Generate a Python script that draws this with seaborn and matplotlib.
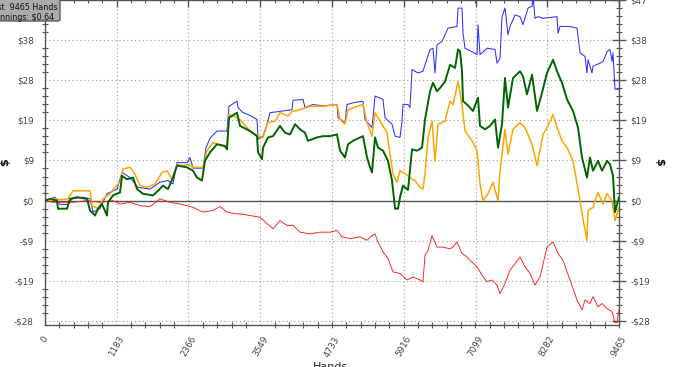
import matplotlib
matplotlib.use("Agg")
import matplotlib.pyplot as plt
import seaborn as sns
import pandas as pd
from matplotlib.patches import FancyBboxPatch
from matplotlib.ticker import AutoMinorLocator

# ---------------- data (hand number, winnings in $) ----------------
x_ticks = [0, 1183, 2366, 3549, 4733, 5916, 7099, 8282, 9465]
x_tick_labels = ["0", "1183", "2366", "3549", "4733", "5916", "7099", "8282", "9465"]
y_ticks = [-28.2, -18.8, -9.4, 0.0, 9.4, 18.8, 28.2, 37.6, 47.0]
y_tick_labels = ["-$28", "-$19", "-$9", "$0", "$9", "$19", "$28", "$38", "$47"]

blue_pts = [(0, 0.0), (82, 0.4), (165, 0.8), (247, -0.9), (379, -0.9), (445, 0.4), (627, 0.8),
            (742, 0.4), (792, -2.7), (907, -1.9), (1022, 1.6), (1187, 2.7), (1270, 6.6), (1402, 5.4),
            (1534, 3.1), (1731, 2.7), (1896, 4.3), (2028, 4.7), (2111, 3.9), (2177, 8.9), (2342, 8.9),
            (2391, 10.1), (2441, 7.6), (2605, 7.6), (2655, 12.4), (2721, 14.6), (2836, 16.3),
            (3001, 16.3), (3034, 22.1), (3166, 23.3), (3183, 21.8), (3265, 20.6), (3347, 20.2),
            (3496, 19.0), (3513, 14.4), (3595, 15.1), (3661, 17.9), (3710, 20.6), (3875, 20.9),
            (4073, 21.3), (4090, 23.5), (4254, 23.7), (4287, 21.8), (4419, 22.5), (4584, 22.2),
            (4815, 22.5), (4832, 19.4), (4947, 18.3), (4980, 22.5), (5079, 22.9), (5244, 23.3),
            (5277, 19.0), (5392, 17.1), (5442, 24.5), (5574, 23.7), (5607, 19.4), (5722, 17.9),
            (5772, 15.1), (5854, 14.8), (5887, 18.6), (5903, 22.5), (5986, 22.5), (6019, 21.8),
            (6052, 30.7), (6151, 29.9), (6233, 30.3), (6266, 31.8), (6349, 35.4), (6398, 35.7),
            (6431, 29.9), (6464, 36.5), (6547, 37.3), (6646, 40.4), (6794, 40.8), (6811, 45.1),
            (6876, 45.1), (6893, 39.2), (6926, 35.7), (7041, 34.9), (7124, 34.2), (7140, 41.2),
            (7173, 34.2), (7289, 35.7), (7421, 35.4), (7454, 32.2), (7503, 33.4), (7536, 43.1),
            (7585, 45.1), (7635, 38.9), (7668, 40.8), (7750, 43.5), (7833, 43.1), (7882, 41.2),
            (7965, 45.1), (8031, 45.5), (8047, 48.0), (8080, 42.7), (8130, 43.1), (8212, 42.7),
            (8443, 43.1), (8460, 39.2), (8492, 40.8), (8657, 40.8), (8773, 40.4), (8822, 34.6),
            (8904, 33.8), (8937, 29.9), (8954, 33.0), (9020, 29.9), (9036, 31.5), (9152, 32.2),
            (9202, 32.6), (9268, 34.9), (9317, 35.4), (9350, 32.6), (9366, 34.6), (9399, 26.1),
            (9465, 26.1)]

green_pts = [(0, 0.0), (82, 0.4), (198, 0.0), (214, -1.9), (363, -1.9), (412, 0.4), (528, 0.8),
             (693, 0.4), (742, -2.3), (825, -3.5), (874, -1.9), (940, -0.8), (1022, -3.5),
             (1039, -0.4), (1121, 1.2), (1237, 1.9), (1270, 5.8), (1352, 5.0), (1451, 5.4),
             (1517, 2.7), (1616, 1.6), (1781, 1.2), (1863, 2.3), (1946, 3.5), (2028, 2.7),
             (2111, 5.4), (2177, 8.2), (2342, 7.8), (2441, 7.0), (2506, 5.4), (2589, 4.7),
             (2638, 9.3), (2721, 11.3), (2836, 13.2), (2968, 12.8), (3001, 12.0), (3034, 19.4),
             (3166, 20.6), (3216, 17.5), (3380, 16.3), (3496, 15.1), (3513, 11.3), (3578, 9.7),
             (3595, 12.4), (3677, 14.8), (3760, 15.1), (3875, 17.5), (3958, 15.9), (4040, 15.5),
             (4123, 17.9), (4205, 16.7), (4287, 15.9), (4337, 14.0), (4485, 14.8), (4584, 15.1),
             (4700, 15.1), (4815, 15.5), (4865, 11.7), (4947, 10.1), (4997, 13.2), (5079, 14.0),
             (5195, 14.8), (5244, 15.1), (5310, 10.1), (5359, 7.8), (5392, 6.6), (5442, 14.8),
             (5491, 12.4), (5574, 11.7), (5656, 9.3), (5722, 4.7), (5772, -1.9), (5821, -1.9),
             (5854, 0.8), (5903, 3.5), (5986, 2.5), (6052, 12.0), (6134, 11.7), (6217, 12.4),
             (6266, 19.0), (6349, 25.6), (6398, 27.6), (6464, 25.6), (6514, 26.4), (6596, 27.9),
             (6679, 31.8), (6761, 31.1), (6811, 35.4), (6844, 35.0), (6876, 30.3), (6893, 23.3),
             (6959, 22.5), (7058, 21.0), (7140, 24.1), (7173, 17.5), (7256, 16.7), (7338, 17.5),
             (7421, 19.0), (7470, 12.4), (7536, 17.9), (7585, 28.7), (7635, 21.8), (7717, 28.7),
             (7833, 30.3), (7882, 29.1), (7948, 24.9), (8031, 29.5), (8113, 21.0), (8196, 25.3),
             (8278, 29.9), (8377, 33.0), (8443, 30.3), (8525, 27.6), (8608, 23.7), (8707, 21.0),
             (8789, 17.1), (8855, 10.1), (8937, 5.4), (8987, 10.1), (9036, 7.0), (9119, 9.3),
             (9185, 7.0), (9268, 9.3), (9317, 8.5), (9366, 5.8), (9399, -2.7), (9465, 0.8)]

orange_pts = [(0, 0.0), (198, 0.4), (247, 0.2), (379, 0.4), (462, 2.3), (742, 2.3), (775, -1.2),
              (874, -1.9), (956, 0.4), (1072, 1.6), (1154, 3.1), (1237, 4.3), (1286, 7.4),
              (1402, 7.8), (1484, 6.2), (1567, 3.5), (1682, 3.1), (1814, 3.9), (1929, 6.6),
              (2012, 7.0), (2094, 5.0), (2177, 8.5), (2276, 8.2), (2358, 8.5), (2441, 7.8),
              (2605, 7.8), (2671, 11.7), (2770, 13.6), (3001, 12.4), (3034, 20.2), (3166, 19.5),
              (3216, 19.0), (3380, 16.3), (3513, 15.1), (3595, 14.8), (3677, 18.3), (3793, 18.6),
              (3875, 20.6), (4007, 19.8), (4073, 20.9), (4205, 21.3), (4370, 22.1), (4584, 22.1),
              (4815, 22.5), (4865, 19.0), (4947, 17.9), (4997, 21.3), (5145, 22.1), (5244, 22.5),
              (5310, 18.3), (5392, 15.1), (5442, 20.6), (5524, 18.6), (5640, 15.9), (5689, 10.9),
              (5739, 6.2), (5805, 4.3), (5854, 7.0), (5969, 6.0), (6052, 5.0), (6101, 4.7),
              (6184, 3.1), (6233, 2.7), (6266, 6.2), (6316, 14.8), (6382, 18.6), (6431, 9.3),
              (6481, 17.9), (6596, 18.6), (6679, 23.3), (6728, 22.5), (6811, 27.9), (6876, 22.5),
              (6926, 16.3), (7041, 14.0), (7124, 11.7), (7173, 3.9), (7223, 0.0), (7305, 1.6),
              (7388, 4.3), (7470, 0.0), (7503, 7.0), (7585, 16.7), (7635, 10.9), (7717, 16.7),
              (7833, 18.3), (7915, 17.1), (8031, 13.2), (8113, 8.2), (8212, 15.5), (8295, 17.5),
              (8377, 20.2), (8443, 17.1), (8525, 14.0), (8608, 12.4), (8707, 9.3), (8822, 0.0),
              (8871, -4.3), (8937, -9.3), (8954, -2.3), (9036, -1.6), (9119, 1.9), (9202, -0.8),
              (9268, 1.6), (9350, 0.0), (9399, -4.7), (9465, -1.6)]

red_pts = [(0, 0.0), (132, -0.4), (247, -0.4), (462, -0.4), (693, 0.0), (907, -0.4), (1121, 0.0),
           (1237, -0.8), (1402, -0.4), (1567, -1.2), (1731, -1.4), (1896, 0.4), (2061, -0.4),
           (2226, -0.8), (2342, -1.2), (2441, -1.6), (2605, -2.7), (2770, -2.3), (2886, -1.4),
           (3001, -2.7), (3133, -3.1), (3216, -3.1), (3380, -3.5), (3545, -3.9), (3661, -5.4),
           (3760, -6.6), (3875, -4.7), (3991, -5.8), (4090, -5.8), (4205, -7.4), (4370, -7.8),
           (4535, -7.4), (4700, -7.4), (4815, -7.0), (4898, -8.5), (5030, -8.9), (5195, -8.5),
           (5310, -9.3), (5392, -8.2), (5442, -7.8), (5491, -9.7), (5574, -12.0), (5656, -13.6),
           (5739, -16.7), (5854, -17.1), (5969, -18.6), (6068, -17.9), (6184, -18.6), (6233, -19.0),
           (6266, -12.8), (6316, -11.7), (6382, -8.2), (6464, -10.9), (6563, -10.9), (6679, -11.3),
           (6728, -10.9), (6794, -9.7), (6876, -12.4), (6959, -13.2), (7041, -14.4), (7124, -15.5),
           (7206, -17.5), (7289, -19.0), (7371, -18.6), (7454, -19.8), (7503, -21.8), (7585, -19.4),
           (7668, -16.3), (7750, -14.8), (7833, -13.2), (7915, -15.5), (7998, -17.1), (8080, -19.8),
           (8163, -17.9), (8278, -10.9), (8377, -9.7), (8460, -12.4), (8542, -14.0), (8657, -18.6),
           (8773, -23.3), (8855, -25.6), (8904, -23.3), (8987, -24.1), (9036, -22.5), (9119, -24.9),
           (9185, -24.1), (9268, -25.3), (9350, -26.0), (9399, -28.6), (9432, -28.6), (9465, -25.6)]

series = [("blue", blue_pts, "#3030ff", 0.75),
          ("red", red_pts, "#ff1a1a", 0.65),
          ("orange", orange_pts, "#ffa500", 1.1),
          ("green", green_pts, "#006400", 1.4)]

# ---------------- figure ----------------
sns.set_theme(style="white")
plt.rcParams['font.family'] = ['DejaVu Sans']

W, H = 700, 367
fig = plt.figure(figsize=(W / 100, H / 100), dpi=100)
fig.patch.set_facecolor("white")
ax = fig.add_axes([45 / W, 42 / H, 574 / W, 325 / H])
ax.set_facecolor("white")

for name, pts, color, lw in series:
    df = pd.DataFrame(pts, columns=["hand", "value"])
    sns.lineplot(data=df, x="hand", y="value", color=color, linewidth=lw,
                 estimator=None, sort=False, ax=ax, zorder=3)

ax.axhline(0, color="#555555", lw=1.0, zorder=2)

ax.set_xlim(0, 9465)
ax.set_ylim(-29.15, 47.0)
ax.set_xticks(x_ticks)
ax.set_xticklabels(x_tick_labels, rotation=60, ha="center", va="top")
ax.set_yticks(y_ticks)
ax.set_yticklabels(y_tick_labels)
ax.xaxis.set_minor_locator(AutoMinorLocator(5))
ax.yaxis.set_minor_locator(AutoMinorLocator(5))

ax.grid(True, which="major", linestyle=(0, (1, 2.5)), color="#9a9a9a", lw=0.8, zorder=1)
ax.tick_params(which="major", direction="inout", length=10, width=1, color="#555555",
               top=True, right=True, labelright=True, labelsize=6.3, labelcolor="#444444", pad=2)
ax.tick_params(which="minor", direction="inout", length=5, width=0.8, color="#555555",
               top=True, right=True, left=True, bottom=True)
ax.tick_params(axis="y", which="major", pad=3)
for s in ax.spines.values():
    s.set_color("#555555")
    s.set_linewidth(1.0)
ax.set_xlabel("")
ax.set_ylabel("")

# axis titles
fig.text(5 / W, 1 - 162 / H, "$", rotation=90, fontsize=8, fontweight="bold",
         ha="center", va="center", color="#111111")
fig.text(659 / W, 1 - 162 / H, "$", rotation=270, fontsize=8, fontweight="bold",
         ha="center", va="center", color="#111111")
fig.text(330 / W, 1 - 362 / H, "Hands", fontsize=8, ha="center", va="top", color="#222222")

# info box top-left (partially off canvas)
box = FancyBboxPatch((-40 / W, 1 - 21 / H), 100 / W, 40 / H,
                     boxstyle="round,pad=0,rounding_size=0.004", transform=fig.transFigure,
                     facecolor="#ababab", edgecolor="#5a5a5a", lw=1.0, zorder=10)
fig.add_artist(box)
fig.text(57 / W, 1 - 7 / H, "Last  9465 Hands", fontsize=5.8, ha="right", va="center",
         color="#111111", zorder=11)
fig.text(54 / W, 1 - 17 / H, "Winnings: $0.64", fontsize=5.8, ha="right", va="center",
         color="#111111", zorder=11)

fig.savefig("out.png", dpi=100)
